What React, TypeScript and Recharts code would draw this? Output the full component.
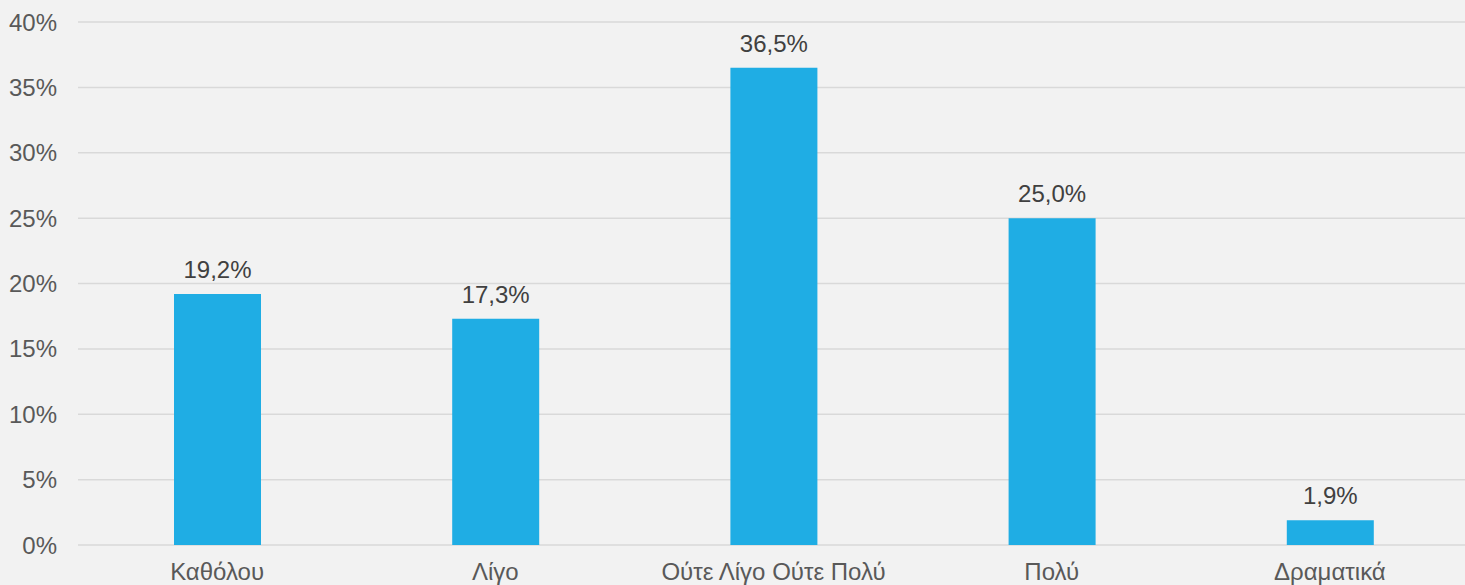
import React from "react";
import { BarChart, Bar, XAxis, YAxis, CartesianGrid, LabelList } from "recharts";

const categories = ["Καθόλου", "Λίγο", "Ούτε Λίγο Ούτε Πολύ", "Πολύ", "Δραματικά"];
const values = [19.2, 17.3, 36.5, 25.0, 1.9];
const yTicks = [0, 5, 10, 15, 20, 25, 30, 35, 40];

const data = categories.map((c, i) => ({ name: c, value: values[i] }));

const fmt = (v: number) => v.toFixed(1).replace(".", ",") + "%";

export default function App() {
  return (
    <div style={{ position: "absolute", left: 0, top: 0, width: 1465, height: 585, overflow: "hidden", background: "#F2F2F2", fontFamily: "'Liberation Sans', Arial, sans-serif" }}>
      <BarChart width={1469} height={585} data={data} margin={{ top: 22, right: 0, bottom: 0, left: 0 }}>
        <CartesianGrid vertical={false} stroke="#D9D9D9" strokeWidth={1.5} />
        <XAxis
          dataKey="name"
          axisLine={false}
          tickLine={false}
          height={40}
          tickMargin={12}
          tick={{ fill: "#595959", fontSize: 24 }}
          interval={0}
        />
        <YAxis
          domain={[0, 40]}
          ticks={yTicks}
          axisLine={false}
          tickLine={false}
          width={78}
          tickMargin={15}
          tickFormatter={(v: number) => v + "%"}
          tick={{ fill: "#595959", fontSize: 24 }}
        />
        <Bar dataKey="value" fill="#1FADE4" barSize={87} isAnimationActive={false}>
          <LabelList dataKey="value" position="top" offset={16} formatter={(v: any) => fmt(Number(v))} fill="#404040" fontSize={24} />
        </Bar>
      </BarChart>
    </div>
  );
}
